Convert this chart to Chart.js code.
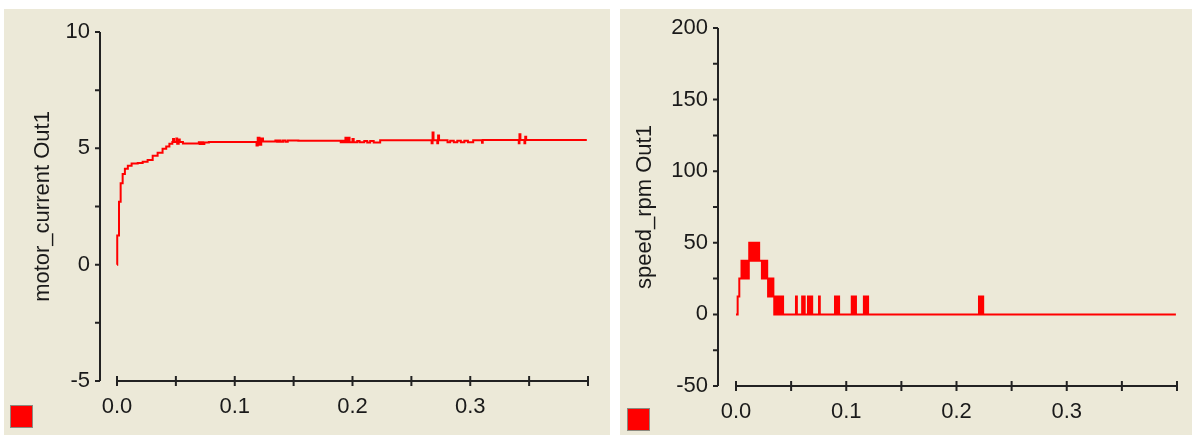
<!DOCTYPE html>
<html>
<head>
<meta charset="utf-8">
<script src="https://cdn.jsdelivr.net/npm/chart.js@4.4.1/dist/chart.umd.min.js"></script>
<style>
    html, body { margin: 0; padding: 0; background: #fff; width: 1192px; height: 435px; overflow: hidden; }
    .panel { position: absolute; background: #ece9d8; }
    .panel canvas { display: block; }
    .key { position: absolute; width: 21px; height: 21px; background: #ff0000; border: 1px solid #8c8a80; }
</style>
</head>
<body>
<div class="panel" style="left:4px; top:9px; width:606px; height:426px;"><canvas id="currentChart"></canvas></div>
<div class="panel" style="left:620px; top:9px; width:572px; height:426px;"><canvas id="speedChart"></canvas></div>
<div class="key" style="left:10px; top:405px;"></div>
<div class="key" style="left:627px; top:408px;"></div>

<script>
// --- motor_current Out1 (scope 1) ---
const currentTime = [
    0, 0.0002, 0.0017, 0.0031, 0.0048, 0.0067, 0.0092, 0.0124, 0.0176, 0.0218,
    0.026, 0.0303, 0.0345, 0.0387, 0.0418, 0.0445, 0.047, 0.0476, 0.0484, 0.0504,
    0.0511, 0.0524, 0.0533, 0.056, 0.0695, 0.0702, 0.0708, 0.0716, 0.0724, 0.0732,
    0.0742, 0.078, 0.1185, 0.1195, 0.121, 0.1225, 0.124, 0.1345, 0.136, 0.1375,
    0.139, 0.141, 0.143, 0.145, 0.154, 0.19, 0.1915, 0.193, 0.194, 0.1952,
    0.1962, 0.1975, 0.2, 0.201, 0.204, 0.206, 0.21, 0.2125, 0.215, 0.218,
    0.2235, 0.2672, 0.268, 0.2688, 0.272, 0.2727, 0.2735, 0.2807, 0.283, 0.286,
    0.289, 0.292, 0.295, 0.298, 0.3025, 0.31, 0.3106, 0.3412, 0.3418, 0.3426,
    0.346, 0.3467, 0.3475, 0.399
];
const currentValue = [
    0, 1.25, 2.7, 3.5, 3.9, 4.12, 4.25, 4.35, 4.37, 4.42,
    4.5, 4.68, 4.81, 4.98, 5.08, 5.2, 5.27, 5.4, 5.27, 5.42,
    5.2, 5.38, 5.27, 5.21, 5.26, 5.19, 5.26, 5.19, 5.26, 5.19,
    5.25, 5.27, 5.12, 5.46, 5.15, 5.42, 5.29, 5.34, 5.28, 5.34,
    5.28, 5.34, 5.28, 5.34, 5.33, 5.26, 5.33, 5.26, 5.45, 5.26,
    5.45, 5.26, 5.4, 5.26, 5.32, 5.26, 5.32, 5.25, 5.32, 5.25,
    5.35, 5.22, 5.68, 5.35, 5.22, 5.55, 5.35, 5.26, 5.33, 5.26,
    5.33, 5.26, 5.33, 5.26, 5.35, 5.24, 5.36, 5.22, 5.6, 5.36,
    5.22, 5.5, 5.36, 5.36
];

// --- speed_rpm Out1 (scope 2) ---
const speedTime = [
    0, 0.0015, 0.003, 0.005, 0.006, 0.0068, 0.0076, 0.0084, 0.0092, 0.01,
    0.0108, 0.0116, 0.012, 0.0128, 0.0136, 0.0144, 0.0152, 0.016, 0.0168, 0.0176,
    0.0184, 0.0192, 0.02, 0.021, 0.0235, 0.0243, 0.0251, 0.0259, 0.0267, 0.0275,
    0.0283, 0.0291, 0.0299, 0.0307, 0.0315, 0.0323, 0.0331, 0.0339, 0.0347, 0.0355,
    0.0363, 0.0371, 0.0379, 0.0387, 0.0395, 0.0403, 0.0411, 0.0419, 0.0427,
    0.0544, 0.0552, 0.06, 0.0608, 0.0615, 0.0623, 0.0653, 0.0661, 0.0669, 0.0677,
    0.0683, 0.0691, 0.0753, 0.076, 0.0898, 0.0906, 0.0913, 0.0921, 0.0927, 0.0935,
    0.105, 0.1058, 0.1065, 0.1073, 0.108, 0.1088, 0.116, 0.1168, 0.1175, 0.1183,
    0.119, 0.1198, 0.2204, 0.2212, 0.2219, 0.2227, 0.2234, 0.2242, 0.399
];
const speedValue = [
    0, 12.5, 25, 37.5, 25, 37.5, 25, 37.5, 25, 37.5,
    25, 37.5, 50, 37.5, 50, 37.5, 50, 37.5, 50, 37.5,
    50, 37.5, 50, 37.5, 25, 37.5, 25, 37.5, 25, 37.5,
    25, 12.5, 25, 12.5, 25, 12.5, 25, 12.5, 0, 12.5,
    0, 12.5, 0, 12.5, 0, 12.5, 0, 12.5, 0,
    12.5, 0, 12.5, 0, 12.5, 0, 12.5, 0, 12.5, 0,
    12.5, 0, 12.5, 0, 12.5, 0, 12.5, 0, 12.5, 0,
    12.5, 0, 12.5, 0, 12.5, 0, 12.5, 0, 12.5, 0,
    12.5, 0, 12.5, 0, 12.5, 0, 12.5, 0, 0
];

// tick values + labels (x is shared by both scopes)
const timeTicks = [0, 0.05, 0.1, 0.15, 0.2, 0.25, 0.3, 0.35, 0.4];
const timeLabels = ['0.0', '', '0.1', '', '0.2', '', '0.3', '', ''];
const currentTicks = [-5, -2.5, 0, 2.5, 5, 7.5, 10];
const currentLabels = ['-5', '', '0', '', '5', '', '10'];
const speedTicks = [-50, -25, 0, 25, 50, 75, 100, 125, 150, 175, 200];
const speedLabels = ['-50', '', '0', '', '50', '', '100', '', '150', '', '200'];

Chart.defaults.font.family = '"Liberation Sans", Arial, sans-serif';
Chart.defaults.color = '#1a1a1a';

// วาดแกนเองแบบ scope: แกน y แยกจากแกน x, tick ของแกน x ตัดผ่านเส้น
const scopeAxes = {
    id: 'scopeAxes',
    afterDraw(chart, args, opts) {
        const { ctx, chartArea } = chart;
        const x = chart.scales.x;
        const y = chart.scales.y;
        const ax = chartArea.left - opts.gap;
        const ay = y.getPixelForValue(y.min);
        ctx.save();
        ctx.strokeStyle = '#222';
        ctx.lineWidth = 2;
        ctx.beginPath();
        ctx.moveTo(ax, y.getPixelForValue(y.max));
        ctx.lineTo(ax, ay);
        y.ticks.forEach(t => {
            const py = y.getPixelForValue(t.value);
            ctx.moveTo(ax - 5, py);
            ctx.lineTo(ax, py);
        });
        ctx.moveTo(x.getPixelForValue(x.min), ay);
        ctx.lineTo(x.getPixelForValue(x.max), ay);
        x.ticks.forEach(t => {
            const px = x.getPixelForValue(t.value);
            ctx.moveTo(px, ay - 5);
            ctx.lineTo(px, ay + 5);
        });
        ctx.stroke();
        ctx.restore();
    }
};

// grid ซ่อน แต่ใช้ tickLength เป็นระยะห่างของ label (ticks.padding ไปบวก padding ของ chartArea)
function hiddenGrid(len) {
    return { display: true, drawOnChartArea: false, drawTicks: true, tickLength: len, color: 'rgba(0,0,0,0)' };
}

function makeScope(canvasId, times, values, yTicks, yLabels, yTitle, lay) {
    return new Chart(document.getElementById(canvasId), {
        type: 'line',
        data: {
            datasets: [{
                data: times.map((t, i) => ({ x: t, y: values[i] })),
                borderColor: '#ff0000',
                borderWidth: 2,
                pointRadius: 0,
                stepped: true,
                clip: 6
            }]
        },
        options: {
            responsive: true,
            maintainAspectRatio: false,
            animation: false,
            events: [],
            layout: { padding: lay.padding },
            plugins: {
                legend: { display: false },
                tooltip: { enabled: false },
                scopeAxes: { gap: lay.gap }
            },
            scales: {
                x: {
                    type: 'linear',
                    min: 0,
                    max: 0.4,
                    grid: hiddenGrid(lay.xPad),
                    border: { display: false },
                    afterBuildTicks: s => { s.ticks = timeTicks.map(v => ({ value: v })); },
                    afterFit: s => { s.height = lay.xHeight; },
                    ticks: {
                        autoSkip: false,
                        maxRotation: 0,
                        padding: 0,
                        font: { size: 22 },
                        callback: (v, i) => timeLabels[i]
                    }
                },
                y: {
                    type: 'linear',
                    min: yTicks[0],
                    max: yTicks[yTicks.length - 1],
                    grid: hiddenGrid(lay.yPad),
                    border: { display: false },
                    afterBuildTicks: s => { s.ticks = yTicks.map(v => ({ value: v })); },
                    afterFit: s => { s.width = lay.yWidth; },
                    ticks: {
                        autoSkip: false,
                        padding: 0,
                        font: { size: 22 },
                        callback: (v, i) => yLabels[i]
                    },
                    title: {
                        display: true,
                        text: yTitle,
                        font: { size: 22 },
                        padding: { top: lay.titlePad, bottom: 0 }
                    }
                }
            }
        },
        plugins: [scopeAxes]
    });
}

makeScope('currentChart', currentTime, currentValue, currentTicks, currentLabels, 'motor_current Out1', {
    padding: { left: 0, top: 23, right: 22, bottom: 0 },
    yWidth: 113, xHeight: 54, yPad: 27, xPad: 13, titlePad: 26, gap: 17
});

makeScope('speedChart', speedTime, speedValue, speedTicks, speedLabels, 'speed_rpm Out1', {
    padding: { left: 0, top: 19, right: 15, bottom: 0 },
    yWidth: 116, xHeight: 49, yPad: 28, xPad: 13, titlePad: 12, gap: 18
});
</script>
</body>
</html>
